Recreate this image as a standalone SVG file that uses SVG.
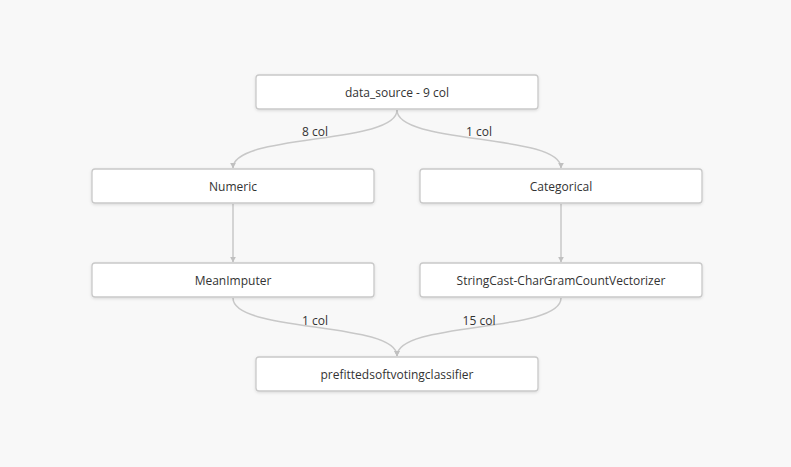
<svg xmlns="http://www.w3.org/2000/svg" width="791" height="467" viewBox="0 0 791 467">
<style>
.node rect{fill:#fff;stroke:#c9c9c9;stroke-width:1.3;}
.node text,.lbl{font-family:"Open Sans","Noto Sans",sans-serif;font-size:12px;fill:#333;text-anchor:middle;dominant-baseline:central;}
.edge{fill:none;stroke:#c8c8c8;stroke-width:1.5;marker-end:url(#arr);}
</style>
<defs>
<marker id="arr" viewBox="0 0 10 10" refX="9" refY="5" markerWidth="6" markerHeight="6" orient="auto" markerUnits="userSpaceOnUse"><path d="M0,0 L10,5 L0,10 z" fill="#c0c0c0"/></marker>
<filter id="sh" x="-10%" y="-30%" width="120%" height="160%"><feDropShadow dx="0" dy="1" stdDeviation="1.5" flood-color="#000" flood-opacity="0.12"/></filter>
</defs>
<rect width="791" height="467" fill="#f8f8f8"/>
<g id="connectors">
<path class="edge" d="M397,110 C397,145 233,133 233,168"/>
<path class="edge" d="M397,110 C397,145 561,133 561,168"/>
<path class="edge" d="M233,204 L233,262"/>
<path class="edge" d="M561,204 L561,262"/>
<path class="edge" d="M233,298 C233,333 397,321 397,356"/>
<path class="edge" d="M561,298 C561,333 397,321 397,356"/>
<text class="lbl" x="315" y="131">8 col</text>
<text class="lbl" x="479" y="131">1 col</text>
<text class="lbl" x="315" y="320">1 col</text>
<text class="lbl" x="479" y="320">15 col</text>
</g>
<g id="data_source" class="node"><rect x="256" y="75" width="282" height="34" rx="3" filter="url(#sh)"/><text x="397" y="92">data_source - 9 col</text></g>
<g id="numeric" class="node"><rect x="92" y="169" width="282" height="34" rx="3" filter="url(#sh)"/><text x="233" y="186">Numeric</text></g>
<g id="categorical" class="node"><rect x="420" y="169" width="282" height="34" rx="3" filter="url(#sh)"/><text x="561" y="186">Categorical</text></g>
<g id="meanimputer" class="node"><rect x="92" y="263" width="282" height="34" rx="3" filter="url(#sh)"/><text x="233" y="280">MeanImputer</text></g>
<g id="stringcast" class="node"><rect x="420" y="263" width="282" height="34" rx="3" filter="url(#sh)"/><text x="561" y="280">StringCast-CharGramCountVectorizer</text></g>
<g id="classifier" class="node"><rect x="256" y="357" width="282" height="34" rx="3" filter="url(#sh)"/><text x="397" y="374">prefittedsoftvotingclassifier</text></g>
</svg>
